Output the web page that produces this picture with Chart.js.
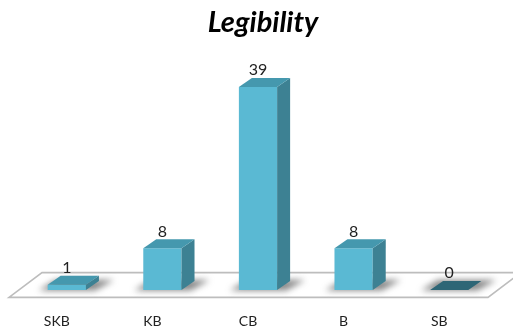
<!DOCTYPE html>
<html>
<head>
<meta charset="utf-8">
<style>
html,body{margin:0;padding:0;background:#fff}
canvas{display:block}
</style>
<script src="https://cdn.jsdelivr.net/npm/chart.js@4"></script>
</head>
<body>
<canvas id="c" width="513" height="332"></canvas>
<script>
const categories = ["SKB", "KB", "CB", "B", "SB"];
const counts = [1, 8, 39, 8, 0];
const chartTitle = "Legibility";
const depthX = 13, depthY = 9;
const frontColor = "#5ab9d3", topColor = "#4598ae", sideColor = "#3d8193", emptyColor = "#2e6676";

function poly(ctx, pts, fill) {
  ctx.beginPath();
  pts.forEach((p, i) => i ? ctx.lineTo(p[0], p[1]) : ctx.moveTo(p[0], p[1]));
  ctx.closePath();
  if (fill) { ctx.fillStyle = fill; ctx.fill(); }
}

// Floor, soft shadows, extruded faces and value labels around the library's bars
const box3d = {
  id: "box3d",
  afterLayout(chart) {
    // The heading sits a little right of the plot centre
    chart.titleBlock.left += 5;
    chart.titleBlock.right += 5;
  },
  beforeDatasetsDraw(chart) {
    const { ctx, chartArea: a, scales: { y } } = chart;
    const base = y.getPixelForValue(0);
    ctx.save();
    ctx.strokeStyle = "#bdbdbd";
    ctx.lineWidth = 1.6;
    poly(ctx, [[a.left - 10, base + 7.4], [a.right - 9, base + 7.4], [a.right + 24, base - 17.4], [a.left + 23, base - 17.4]]);
    ctx.stroke();
    chart.getDatasetMeta(0).data.forEach(bar => {
      const l = bar.x - bar.width / 2, r = bar.x + bar.width / 2;
      ctx.save();
      ctx.filter = "blur(3px)";
      poly(ctx, [[l - 9, base + 0.5], [r + 9, base + 0.5], [r + 28, base - depthY - 1], [l + 8, base - depthY - 1]], "rgba(95,95,95,0.75)");
      ctx.restore();
    });
    ctx.restore();
  },
  afterDatasetsDraw(chart) {
    const { ctx, scales: { y } } = chart;
    const base = y.getPixelForValue(0);
    chart.getDatasetMeta(0).data.forEach((bar, i) => {
      const l = bar.x - bar.width / 2, r = bar.x + bar.width / 2, t = bar.y;
      const backTop = [[l, t], [r, t], [r + depthX, t - depthY], [l + depthX, t - depthY]];
      if (counts[i] === 0) {
        poly(ctx, backTop, emptyColor);
      } else {
        poly(ctx, [[r, t], [r + depthX, t - depthY], [r + depthX, base - depthY], [r, base]], sideColor);
        poly(ctx, backTop, topColor);
      }
      ctx.fillStyle = "#222";
      ctx.font = "16px Lato";
      ctx.textAlign = "center";
      ctx.textBaseline = "middle";
      ctx.fillText(String(counts[i]), bar.x, t - 17);
    });
  }
};

new Chart(document.getElementById("c"), {
  type: "bar",
  data: {
    labels: categories,
    datasets: [{
      data: counts,
      backgroundColor: frontColor,
      borderWidth: 0,
      barPercentage: 0.4,
      categoryPercentage: 1
    }]
  },
  plugins: [box3d],
  options: {
    responsive: false,
    animation: false,
    events: [],
    layout: { padding: { left: 19, right: 16, top: 0, bottom: 0 } },
    plugins: {
      legend: { display: false },
      tooltip: { enabled: false },
      title: {
        display: true,
        text: chartTitle,
        color: "#000",
        font: { family: "Lato", size: 29, weight: "bold", style: "italic" },
        padding: { top: 5, bottom: 16 }
      }
    },
    scales: {
      x: {
        grid: { display: false, drawTicks: false },
        border: { display: false },
        afterFit(scale) { scale.height = 42; },
        ticks: { color: "#222", font: { family: "Lato", size: 14 }, padding: 23, labelOffset: -10, maxRotation: 0 }
      },
      y: { display: false, min: 0, max: 45 }
    }
  }
});
</script>
</body>
</html>
